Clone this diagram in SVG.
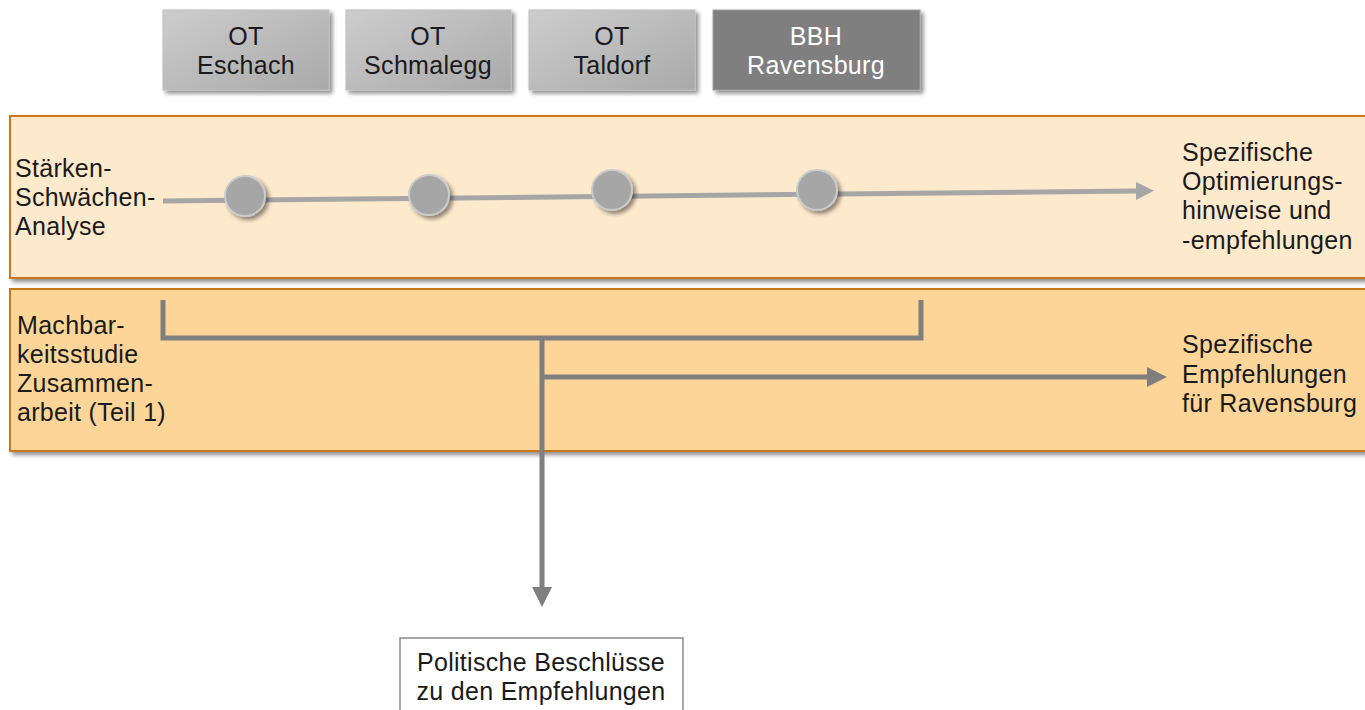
<svg xmlns="http://www.w3.org/2000/svg" width="1365" height="710" viewBox="0 0 1365 710">
<defs>
<linearGradient id="boxg" x1="0" y1="0" x2="1" y2="1">
<stop offset="0" stop-color="#cdcdcd"/>
<stop offset="1" stop-color="#a9a9a9"/>
</linearGradient>
<filter id="sh" x="-10%" y="-10%" width="130%" height="140%">
<feGaussianBlur in="SourceAlpha" stdDeviation="2"/>
<feOffset dx="3" dy="3"/>
<feComponentTransfer><feFuncA type="linear" slope="0.45"/></feComponentTransfer>
<feMerge><feMergeNode/><feMergeNode in="SourceGraphic"/></feMerge>
</filter>
<marker id="ah1" viewBox="0 0 10 10" refX="0" refY="5" markerWidth="18" markerHeight="18" markerUnits="userSpaceOnUse" orient="auto">
<path d="M0,0 L10,5 L0,10 Z" fill="#a6a6a6"/>
</marker>
<marker id="ah2" viewBox="0 0 10 10" refX="0" refY="5" markerWidth="20" markerHeight="20" markerUnits="userSpaceOnUse" orient="auto">
<path d="M0,0 L10,5 L0,10 Z" fill="#7f7f7f"/>
</marker>
<style>
text{font-family:"Liberation Sans",Arial,sans-serif;font-size:25px;letter-spacing:0.3px;fill:#1a1a1a}
.c{text-anchor:middle}
.w{fill:#ffffff}
.ot{fill:url(#boxg);stroke:#bdbdbd;stroke-width:1}
.band{stroke:#c8781c;stroke-width:2}
.dot{fill:#a6a6a6;stroke:#cbcbcb;stroke-width:2}
.gl{stroke:#7f7f7f;stroke-width:5;fill:none}
</style>
</defs>

<g id="band1">
<rect x="10" y="116" width="1370" height="162" fill="#fde9cc" class="band" filter="url(#sh)"/>
<text x="15" y="177">Stärken-</text>
<text x="15" y="206">Schwächen-</text>
<text x="15" y="235">Analyse</text>
<text x="1182" y="161">Spezifische</text>
<text x="1182" y="190">Optimierungs-</text>
<text x="1182" y="219">hinweise und</text>
<text x="1182" y="249">-empfehlungen</text>
</g>

<g id="band2">
<rect x="10" y="289" width="1370" height="162" fill="#fdd598" class="band" filter="url(#sh)"/>
<text x="17" y="334">Machbar-</text>
<text x="17" y="363">keitsstudie</text>
<text x="17" y="392">Zusammen-</text>
<text x="17" y="421">arbeit (Teil 1)</text>
<text x="1182" y="353">Spezifische</text>
<text x="1182" y="383">Empfehlungen</text>
<text x="1182" y="412">für Ravensburg</text>
</g>

<g id="ot-eschach">
<rect x="163" y="10" width="166" height="80" class="ot" filter="url(#sh)"/>
<text x="246" y="45" class="c">OT</text>
<text x="246" y="74" class="c">Eschach</text>
</g>
<g id="ot-schmalegg">
<rect x="346" y="10" width="165" height="80" class="ot" filter="url(#sh)"/>
<text x="428" y="45" class="c">OT</text>
<text x="428" y="74" class="c">Schmalegg</text>
</g>
<g id="ot-taldorf">
<rect x="529" y="10" width="166" height="80" class="ot" filter="url(#sh)"/>
<text x="612" y="45" class="c">OT</text>
<text x="612" y="74" class="c">Taldorf</text>
</g>
<g id="bbh-ravensburg">
<rect x="713" y="10" width="207" height="80" fill="#7f7f7f" stroke="#a0a0a0" stroke-width="1" filter="url(#sh)"/>
<text x="816" y="45" class="c w">BBH</text>
<text x="816" y="74" class="c w">Ravensburg</text>
</g>

<g id="connectors">
<line x1="163" y1="201" x2="1136" y2="191" stroke="#a6a6a6" stroke-width="5" marker-end="url(#ah1)"/>
<path d="M163,300 V338 H921 V300" class="gl"/>
<line x1="542" y1="338" x2="542" y2="587" class="gl" marker-end="url(#ah2)"/>
<line x1="542" y1="377" x2="1147" y2="377" class="gl" marker-end="url(#ah2)"/>
</g>

<g id="milestones">
<circle cx="245" cy="196" r="20" class="dot" filter="url(#sh)"/>
<circle cx="429" cy="195" r="20" class="dot" filter="url(#sh)"/>
<circle cx="612" cy="190" r="20" class="dot" filter="url(#sh)"/>
<circle cx="817" cy="190" r="20" class="dot" filter="url(#sh)"/>
</g>

<g id="beschluesse">
<rect x="400" y="638" width="283" height="90" fill="#ffffff" stroke="#8c8c8c" stroke-width="1.5"/>
<text x="541" y="671" class="c">Politische Beschlüsse</text>
<text x="541" y="700" class="c">zu den Empfehlungen</text>
</g>
</svg>
